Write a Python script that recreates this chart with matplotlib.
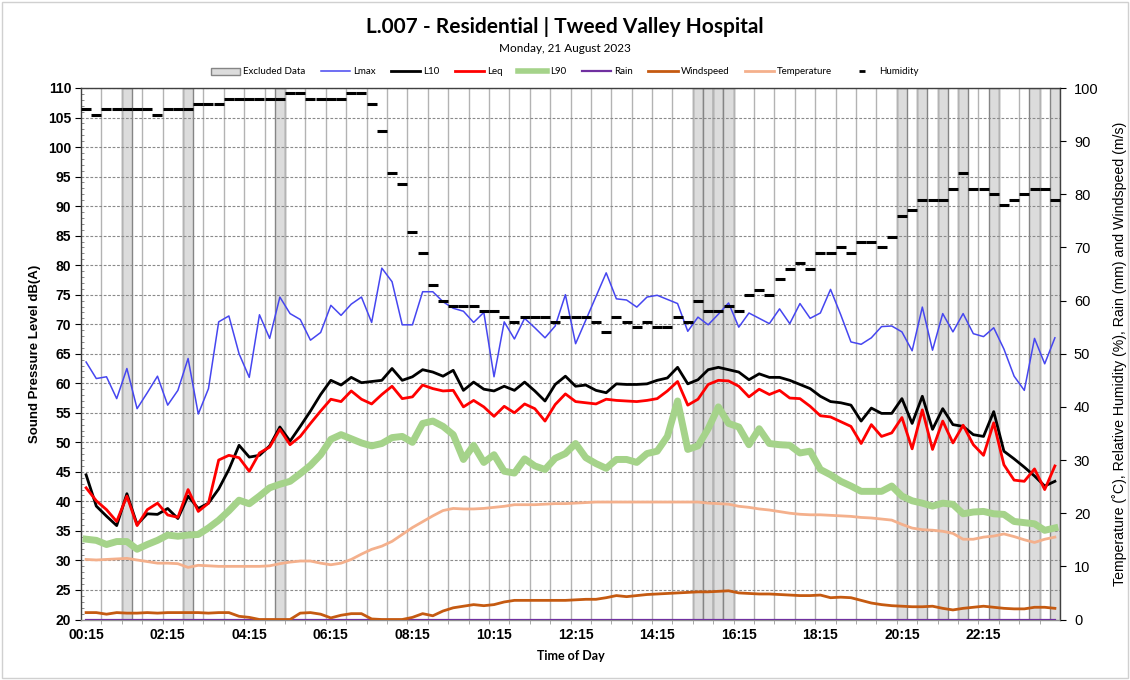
import matplotlib
matplotlib.use("Agg")
import matplotlib.pyplot as plt
from matplotlib.lines import Line2D
from matplotlib.patches import Patch, Rectangle

# ---------------------------------------------------------------- data
# 15-minute intervals, 00:15 ... 24:00
times = [f"{(15 * (k + 1)) // 60:02d}:{(15 * (k + 1)) % 60:02d}" for k in range(96)]

lmax = [
    63.6, 60.8, 61.1, 57.4, 62.5, 55.7, 58.4, 61.2, 56.3, 58.8, 64.2, 54.8,
    59.1, 70.4, 71.4, 65.0, 61.0, 71.6, 67.6, 74.6, 71.8, 70.8, 67.3, 68.6,
    73.2, 71.5, 73.4, 74.6, 70.3, 79.5, 77.2, 69.9, 69.9, 75.5, 75.5, 73.8,
    72.7, 72.2, 70.3, 72.0, 61.1, 70.4, 67.5, 71.0, 69.4, 67.7, 69.7, 75.0,
    66.7, 70.7, 74.7, 78.7, 74.3, 74.1, 72.9, 74.6, 74.9, 74.2, 73.5, 68.8,
    71.2, 69.9, 71.7, 73.6, 69.5, 71.9, 71.0, 70.1, 72.6, 70.1, 73.5, 71.0,
    71.9, 75.9, 71.6, 67.0, 66.6, 67.7, 69.6, 69.7, 68.7, 65.5, 72.9, 65.6,
    71.8, 68.7, 71.8, 68.4, 67.9, 69.4, 65.8, 61.2, 58.8, 67.6, 63.3, 67.7,
]
l10 = [
    44.5, 39.2, 37.5, 35.9, 41.3, 36.1, 37.9, 37.8, 38.8, 37.1, 40.9, 38.8,
    39.7, 42.1, 45.4, 49.5, 47.5, 47.8, 49.4, 52.6, 50.2, 52.7, 55.3, 58.1,
    60.5, 59.7, 61.0, 60.1, 60.3, 60.5, 62.5, 60.5, 61.1, 62.3, 61.9, 61.2,
    62.2, 58.8, 60.2, 59.0, 58.7, 59.5, 58.8, 60.2, 58.7, 57.0, 59.8, 61.2,
    59.5, 59.7, 58.8, 58.4, 59.9, 59.8, 59.8, 59.9, 60.5, 60.9, 62.7, 59.9,
    60.6, 62.3, 62.7, 62.3, 61.9, 60.6, 61.6, 61.0, 61.0, 60.5, 59.8, 59.1,
    57.8, 56.9, 56.7, 56.3, 53.6, 55.8, 54.9, 54.9, 57.4, 53.2, 57.8, 52.2,
    55.7, 53.0, 52.7, 51.3, 51.0, 55.2, 48.5, 47.2, 45.8, 44.3, 42.6, 43.4,
]
leq = [
    42.3, 40.1, 38.6, 36.6, 40.9, 35.9, 38.6, 39.7, 37.7, 37.3, 42.0, 38.3,
    39.7, 47.0, 47.8, 47.4, 45.1, 48.2, 49.2, 52.2, 49.6, 51.0, 53.2, 55.3,
    57.3, 56.9, 58.7, 57.3, 56.5, 58.1, 59.5, 57.4, 57.7, 59.7, 59.1, 58.7,
    58.8, 56.0, 57.1, 56.0, 54.4, 56.1, 55.0, 56.5, 55.7, 53.6, 56.4, 58.2,
    56.9, 56.7, 56.5, 57.3, 57.1, 57.0, 56.9, 57.1, 57.4, 58.7, 60.3, 56.3,
    57.3, 59.8, 60.5, 60.4, 59.5, 57.7, 59.0, 58.1, 58.8, 57.5, 57.4, 56.1,
    54.5, 54.3, 53.5, 52.7, 49.8, 53.0, 51.0, 51.6, 54.2, 48.9, 55.5, 48.8,
    53.6, 49.9, 52.9, 49.6, 47.8, 53.3, 46.2, 43.6, 43.4, 45.5, 42.0, 46.0,
]
l90 = [
    33.6, 33.4, 32.7, 33.2, 33.2, 31.9, 32.7, 33.4, 34.3, 34.1, 34.3, 34.4,
    35.5, 36.8, 38.4, 40.2, 39.6, 40.9, 42.3, 42.9, 43.4, 44.7, 46.1, 47.9,
    50.5, 51.3, 50.6, 49.9, 49.4, 49.8, 50.8, 51.0, 50.0, 53.2, 53.6, 52.7,
    51.3, 47.1, 49.5, 46.6, 47.9, 45.1, 44.8, 47.2, 46.0, 45.4, 47.3, 48.1,
    49.8, 47.4, 46.4, 45.6, 47.1, 47.1, 46.6, 48.1, 48.5, 51.0, 57.0, 48.8,
    49.4, 52.3, 56.0, 53.2, 52.6, 49.6, 52.3, 49.8, 49.6, 49.5, 48.2, 48.5,
    45.4, 44.5, 43.4, 42.6, 41.7, 41.7, 41.7, 42.6, 40.9, 40.1, 39.7, 39.2,
    39.7, 39.5, 37.9, 38.2, 38.3, 37.9, 37.8, 36.6, 36.4, 36.2, 35.1, 35.5,
]
rain = [
    0, 0, 0, 0, 0, 0, 0, 0, 0, 0, 0, 0, 0, 0, 0, 0, 0, 0, 0, 0, 0, 0, 0, 0,
    0, 0, 0, 0, 0, 0, 0, 0, 0, 0, 0, 0, 0, 0, 0, 0, 0, 0, 0, 0, 0, 0, 0, 0,
    0, 0, 0, 0, 0, 0, 0, 0, 0, 0, 0, 0, 0, 0, 0, 0, 0, 0, 0, 0, 0, 0, 0, 0,
    0, 0, 0, 0, 0, 0, 0, 0, 0, 0, 0, 0, 0, 0, 0, 0, 0, 0, 0, 0, 0, 0, 0, 0,
]
windspeed = [
    1.3, 1.3, 1.0, 1.3, 1.2, 1.2, 1.3, 1.2, 1.3, 1.3, 1.3, 1.3,
    1.2, 1.3, 1.3, 0.6, 0.4, 0.0, 0.0, 0.0, 0.0, 1.2, 1.3, 1.0,
    0.3, 0.8, 1.1, 1.1, 0.1, 0.0, 0.0, 0.0, 0.4, 1.1, 0.7, 1.6,
    2.2, 2.5, 2.8, 2.6, 2.8, 3.3, 3.6, 3.6, 3.6, 3.6, 3.6, 3.6,
    3.7, 3.8, 3.8, 4.1, 4.5, 4.3, 4.5, 4.7, 4.8, 4.9, 5.0, 5.1,
    5.2, 5.2, 5.3, 5.4, 5.0, 4.9, 4.8, 4.8, 4.7, 4.6, 4.5, 4.5,
    4.6, 4.1, 4.2, 4.1, 3.6, 3.1, 2.8, 2.6, 2.5, 2.4, 2.4, 2.5,
    2.1, 1.8, 2.1, 2.3, 2.5, 2.3, 2.1, 2.0, 2.0, 2.3, 2.3, 2.1,
]
temperature = [
    11.3, 11.2, 11.3, 11.4, 11.5, 11.2, 10.9, 10.6, 10.6, 10.5, 9.8, 10.2,
    10.1, 10.0, 10.0, 10.0, 10.0, 10.0, 10.1, 10.5, 10.8, 11.0, 11.0, 10.6,
    10.3, 10.6, 11.3, 12.3, 13.2, 13.8, 14.7, 16.0, 17.3, 18.4, 19.5, 20.5,
    20.9, 20.8, 20.8, 20.9, 21.1, 21.3, 21.6, 21.6, 21.6, 21.7, 21.8, 21.8,
    21.9, 22.0, 22.1, 22.1, 22.1, 22.1, 22.1, 22.1, 22.1, 22.1, 22.1, 22.1,
    22.1, 21.9, 21.8, 21.7, 21.3, 21.1, 20.8, 20.6, 20.3, 20.0, 19.8, 19.7,
    19.7, 19.6, 19.5, 19.4, 19.2, 19.1, 18.9, 18.7, 17.9, 17.2, 16.9, 16.8,
    16.6, 16.2, 15.1, 15.1, 15.5, 15.7, 16.1, 15.6, 15.0, 14.5, 15.1, 15.5,
]
humidity = [
    96, 95, 96, 96, 96, 96, 96, 95, 96, 96, 96, 97,
    97, 97, 98, 98, 98, 98, 98, 98, 99, 99, 98, 98,
    98, 98, 99, 99, 97, 92, 84, 82, 73, 69, 63, 60,
    59, 59, 59, 58, 58, 57, 56, 57, 57, 57, 56, 57,
    57, 57, 56, 54, 57, 56, 55, 56, 55, 55, 57, 56,
    60, 58, 58, 59, 58, 61, 62, 61, 64, 66, 67, 66,
    69, 69, 70, 69, 71, 71, 70, 72, 76, 77, 79, 79,
    79, 81, 84, 81, 81, 80, 78, 79, 80, 81, 81, 79,
]
# intervals flagged as excluded data
excluded = [4, 10, 19, 60, 61, 62, 63, 80, 82, 84, 86, 89, 93, 95]

# ---------------------------------------------------------------- style
C_LMAX = "#4646f0"
C_L10 = "#000000"
C_LEQ = "#ff0000"
C_L90 = "#a5d38a"
C_RAIN = "#7030a0"
C_WIND = "#c55a11"
C_TEMP = "#f4b08c"
C_HUM = "#000000"
C_BAND = "#dcdcdc"
C_BAND_EDGE = "#858585"

W, H = 1130, 680
fig = plt.figure(figsize=(W / 100, H / 100), dpi=100)
fig.patches.append(Rectangle((2 / W, 2 / H), 1 - 4 / W, 1 - 4 / H,
                             transform=fig.transFigure, fill=False,
                             edgecolor="#d0d0d0", lw=1.0))

L, R, T, B = 81, 1060, 88, 619.5
ax = fig.add_axes([L / W, 1 - B / H, (R - L) / W, (B - T) / H])
ax2 = ax.twinx()

x = list(range(len(times)))

# excluded-data columns
ax.bar(excluded, [110] * len(excluded), width=1.0, color=C_BAND,
       edgecolor=C_BAND_EDGE, linewidth=1.0, zorder=0.3)

# grid
ax.set_axisbelow(True)
ax.set_xticks([k - 0.5 for k in range(2, 96, 2)], minor=True)
ax.grid(which="minor", axis="x", color="#b3b3b3", lw=1.0, ls="-")
ax.grid(which="major", axis="y", color="#8a8a8a", lw=0.8, ls=(0, (2.5, 1.5)))
ax.grid(which="major", axis="x", visible=False)

# sound levels (left axis)
ax.plot(x, lmax, color=C_LMAX, lw=1.1, zorder=3)
ax.plot(x, l10, color=C_L10, lw=2.0, zorder=3)
ax.plot(x, leq, color=C_LEQ, lw=2.0, zorder=3)
ax.plot(x, l90, color=C_L90, lw=5.0, zorder=3, solid_joinstyle="round")

# weather (right axis)
ax2.plot(x, rain, color=C_RAIN, lw=1.6, zorder=3)
ax2.plot(x, windspeed, color=C_WIND, lw=2.0, zorder=3)
ax2.plot(x, temperature, color=C_TEMP, lw=2.0, zorder=3)
ax2.plot(x, humidity, ls="none", marker="_", color=C_HUM, ms=7, mew=2.2,
         zorder=4)

ax.set_xlim(-0.5, len(times) - 0.5)
ax.set_ylim(20, 110)
ax2.set_ylim(0, 100)

ax.set_yticks(range(20, 111, 5))
ax.set_yticks(range(20, 111, 1), minor=True)
ax.set_xticks(x[::8])
ax.set_xticklabels(times[::8])

for lab in ax.get_yticklabels() + ax.get_xticklabels():
    lab.set_fontfamily("Liberation Sans")
    lab.set_fontweight("bold")
    lab.set_fontsize(10)
ax.tick_params(axis="y", which="major", length=4, direction="out", pad=3)
ax.tick_params(axis="y", which="minor", length=2, direction="in", color="#777777")
ax.tick_params(axis="x", which="major", length=0, pad=6)
ax.tick_params(axis="x", which="minor", length=3, direction="out", color="#999999")

ax2.set_yticks(range(0, 101, 10))
ax2.tick_params(axis="y", length=4, direction="out", pad=6)
for lab in ax2.get_yticklabels():
    lab.set_fontfamily("Liberation Sans")
    lab.set_fontsize(10.5)

for sp in ax.spines.values():
    sp.set_color("#404040")
    sp.set_linewidth(1.0)
for sp in ax2.spines.values():
    sp.set_visible(False)
ax.spines["bottom"].set_color("#909090")

ax.set_ylabel("Sound Pressure Level dB(A)", fontfamily="Liberation Sans",
              fontweight="bold", fontsize=9.5, labelpad=5)
ax2.set_ylabel("Temperature (\u02daC), Relative Humidity (%), Rain (mm) and Windspeed (m/s)",
               fontfamily="Liberation Sans", fontsize=10.2, labelpad=10)
ax.set_xlabel("Time of Day", fontfamily="Lato", fontweight="bold",
              fontsize=9, labelpad=6)

fig.text(0.5, 1 - 27 / H, "L.007 - Residential | Tweed Valley Hospital",
         ha="center", va="center", fontfamily="Lato", fontweight="bold",
         fontsize=15)
fig.text(0.5, 1 - 49 / H, "Monday, 21 August 2023", ha="center",
         va="center", fontfamily="Lato", fontsize=8.5)

handles = [
    Patch(facecolor=C_BAND, edgecolor=C_BAND_EDGE, lw=1.0),
    Line2D([], [], color=C_LMAX, lw=1.1),
    Line2D([], [], color=C_L10, lw=2.0),
    Line2D([], [], color=C_LEQ, lw=2.0),
    Line2D([], [], color=C_L90, lw=4.0),
    Line2D([], [], color=C_RAIN, lw=1.6),
    Line2D([], [], color=C_WIND, lw=2.0),
    Line2D([], [], color=C_TEMP, lw=2.0),
    Line2D([], [], ls="none", marker="_", color=C_HUM, ms=4, mew=2),
]
labels = ["Excluded Data", "Lmax", "L10", "Leq", "L90", "Rain",
          "Windspeed", "Temperature", "Humidity"]
fig.legend(handles, labels, loc="center", bbox_to_anchor=(0.5, 1 - 72 / H),
           ncol=9, frameon=False, prop=dict(family="Lato", size=7),
           handlelength=3.0, handletextpad=0.3, columnspacing=1.6)

fig.savefig("out.png", dpi=100)
